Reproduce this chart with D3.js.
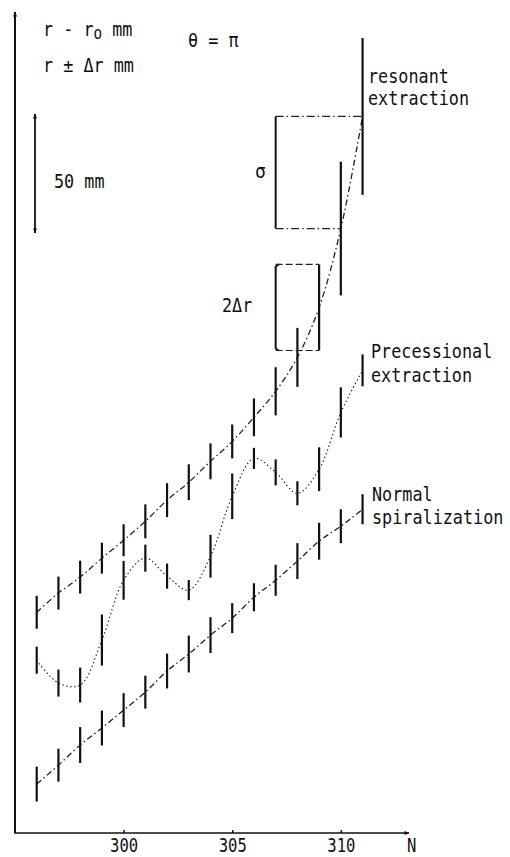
<!DOCTYPE html>
<html>
<head>
<meta charset="utf-8">
<script src="https://cdn.jsdelivr.net/npm/d3@7"></script>
<style>
  body { margin: 0; background: #fff; }
  svg { display: block; }
  text { font-family: "DejaVu Sans Mono", monospace; fill: #111; }
</style>
</head>
<body>
<script>
// turn number N and radial position r - r0 (mm), half spread dr (mm)
var turns = [296, 297, 298, 299, 300, 301, 302, 303, 304, 305, 306, 307, 308, 309, 310, 311];

var resonant = [89.8, 97.6, 104.1, 111.8, 119.1, 126.8, 135.4, 142.7, 151.2, 159.3, 169.1, 179.7, 193.5, 213.8, 245.9, 291.5];
var resonantDr = [6.7, 6.7, 6.7, 6.3, 6.5, 6.9, 6.9, 7.3, 7.3, 6.9, 7.7, 9.8, 12.0, 17.5, 27.2, 31.9];

var precessional = [70.3, 61.0, 60.2, 78.5, 102.8, 111.8, 104.5, 98.8, 112.6, 137.0, 152.4, 146.7, 138.2, 148.0, 171.1, 188.2];
var precessionalDr = [5.5, 5.5, 7.1, 10.4, 7.9, 5.5, 5.1, 4.1, 8.7, 9.3, 4.3, 5.3, 4.9, 8.9, 10.2, 6.5];

var normal = [19.9, 27.6, 35.8, 42.7, 50.0, 57.3, 65.9, 72.8, 80.5, 87.4, 95.9, 102.8, 110.6, 118.7, 124.8, 131.7];
var normalDr = [7.1, 6.7, 7.3, 7.1, 6.9, 6.7, 7.1, 7.5, 7.3, 6.1, 5.7, 6.3, 7.3, 7.5, 6.9, 6.1];

var xTicks = [300, 305, 310];

var width = 510, height = 857;

var svg = d3.select('body').append('svg')
  .attr('width', width)
  .attr('height', height);

var x = d3.scaleLinear().domain([295, 313]).range([15, 406]);
var y = d3.scaleLinear().domain([0, 334]).range([833, 12]);

var defs = svg.append('defs');
defs.append('marker')
  .attr('id', 'arrow')
  .attr('viewBox', '0 0 10 10')
  .attr('refX', 9).attr('refY', 5)
  .attr('markerWidth', 7).attr('markerHeight', 5)
  .attr('markerUnits', 'userSpaceOnUse')
  .attr('orient', 'auto-start-reverse')
  .append('path')
  .attr('d', 'M0,1 L10,5 L0,9 Z')
  .attr('fill', '#111');

function label(x0, y0, str, size, sx) {
  return svg.append('text')
    .attr('transform', 'translate(' + x0 + ',' + y0 + ') scale(' + (sx || 0.84) + ',1)')
    .style('font-size', (size || 20) + 'px')
    .text(str);
}

// axes
svg.append('line')
  .attr('x1', x(295)).attr('y1', y(0))
  .attr('x2', x(295)).attr('y2', y(334))
  .attr('stroke', '#111').attr('stroke-width', 2)
  .attr('marker-end', 'url(#arrow)');

svg.append('line')
  .attr('x1', x(295) - 1).attr('y1', y(0))
  .attr('x2', x(313) + 3).attr('y2', y(0))
  .attr('stroke', '#111').attr('stroke-width', 1.6)
  .attr('marker-end', 'url(#arrow)');

var xAxis = svg.append('g')
  .attr('transform', 'translate(0,' + y(0) + ')')
  .call(d3.axisBottom(x).tickValues(xTicks).tickSizeInner(-3).tickSizeOuter(0));
xAxis.select('.domain').remove();
xAxis.selectAll('.tick line').attr('stroke', '#111').attr('stroke-width', 1.5);
xAxis.selectAll('.tick text')
  .attr('y', 19).attr('dy', null)
  .attr('transform', 'scale(0.82,1)')
  .style('font-size', '19px')
  .style('font-family', '"DejaVu Sans Mono", monospace')
  .attr('fill', '#111');

label(407, 852, 'N', 19, 0.82);

// series
function drawSeries(vals, drs, dash, lw, curve) {
  var pts = turns.map(function(n, i) {
    return { n: n, v: vals[i], dr: drs[i] };
  });

  svg.append('path')
    .datum(pts)
    .attr('d', d3.line()
      .x(function(d) { return x(d.n); })
      .y(function(d) { return y(d.v); })
      .curve(curve))
    .attr('fill', 'none')
    .attr('stroke', '#222')
    .attr('stroke-width', lw)
    .attr('stroke-dasharray', dash);

  svg.append('g').selectAll('line')
    .data(pts)
    .enter()
    .append('line')
    .attr('x1', function(d) { return x(d.n); })
    .attr('x2', function(d) { return x(d.n); })
    .attr('y1', function(d) { return y(d.v + d.dr); })
    .attr('y2', function(d) { return y(d.v - d.dr); })
    .attr('stroke', '#111')
    .attr('stroke-width', 2.2);
}

drawSeries(normal, normalDr, '6,3,1.5,3', 1.3, d3.curveMonotoneX);
drawSeries(precessional, precessionalDr, '1.5,2.5', 1.1, d3.curveCatmullRom.alpha(0.5));
drawSeries(resonant, resonantDr, '6,3,1.5,3', 1.3, d3.curveCatmullRom.alpha(0.5));

// sigma bracket: spacing between the last two resonant turns
var iLast = turns.length - 1;
var bx = x(307);
svg.append('line')
  .attr('x1', bx).attr('x2', bx)
  .attr('y1', y(resonant[iLast])).attr('y2', y(resonant[iLast - 1]))
  .attr('stroke', '#111').attr('stroke-width', 2);
svg.append('line')
  .attr('x1', bx).attr('x2', x(turns[iLast]))
  .attr('y1', y(resonant[iLast])).attr('y2', y(resonant[iLast]))
  .attr('stroke', '#222').attr('stroke-width', 1.2).attr('stroke-dasharray', '8,3,1.5,3');
svg.append('line')
  .attr('x1', bx).attr('x2', x(turns[iLast - 1]))
  .attr('y1', y(resonant[iLast - 1])).attr('y2', y(resonant[iLast - 1]))
  .attr('stroke', '#222').attr('stroke-width', 1.2).attr('stroke-dasharray', '8,3,1.5,3');
label(255, 178, 'σ', 20, 0.9);

// 2 delta r box around turn 309
var k = turns.indexOf(309);
var boxTop = y(resonant[k] + resonantDr[k]);
var boxBot = y(resonant[k] - resonantDr[k]);
svg.append('path')
  .attr('d', 'M' + (bx + 3) + ',' + boxTop + ' L' + bx + ',' + (boxTop + 2) +
    ' L' + bx + ',' + (boxBot - 2) + ' L' + (bx + 3) + ',' + boxBot)
  .attr('fill', 'none')
  .attr('stroke', '#111').attr('stroke-width', 2);
[boxTop, boxBot].forEach(function(yy) {
  svg.append('line')
    .attr('x1', bx).attr('x2', x(309))
    .attr('y1', yy).attr('y2', yy)
    .attr('stroke', '#222').attr('stroke-width', 1.2).attr('stroke-dasharray', '7,3');
});
label(222, 312, '2Δr');

// 50 mm scale
var s0 = 112;
svg.append('line')
  .attr('x1', 35).attr('x2', 35)
  .attr('y1', s0 + 2).attr('y2', s0 + (y(0) - y(50)) - 2)
  .attr('stroke', '#111').attr('stroke-width', 1.8)
  .attr('marker-start', 'url(#arrow)')
  .attr('marker-end', 'url(#arrow)');
label(54, 188, '50 mm');

// header labels
var t1 = svg.append('text')
  .attr('transform', 'translate(43,36) scale(0.84,1)')
  .style('font-size', '20px');
t1.append('tspan').text('r - r');
t1.append('tspan').attr('dy', 3).style('font-size', '17px').text('o');
t1.append('tspan').attr('dy', -3).text(' mm');

label(43, 72, 'r ± Δr mm');
label(188, 47, 'θ = π');

// curve labels
label(368, 83, 'resonant');
label(368, 105, 'extraction');
label(371, 358, 'Precessional');
label(371, 382, 'extraction');
label(372, 501, 'Normal');
label(372, 524, 'spiralization');
</script>
</body>
</html>
